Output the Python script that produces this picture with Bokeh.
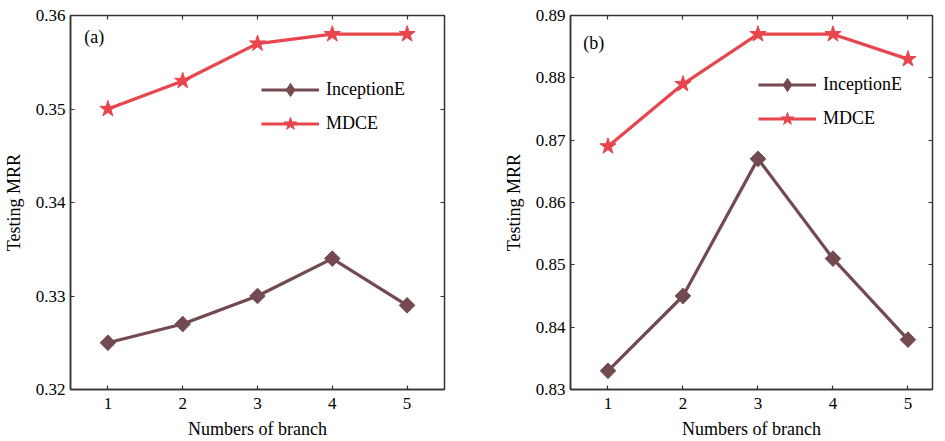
import math
from bokeh.plotting import figure
from bokeh.layouts import row
from bokeh.models import (LinearAxis, Legend, LegendItem, Label, FixedTicker,
                          CustomJSTickFormatter, Range1d)
from bokeh.embed import file_html
from bokeh.resources import INLINE

branches = [1, 2, 3, 4, 5]

# Panel (a)
a_inception = [0.325, 0.327, 0.330, 0.334, 0.329]
a_mdce = [0.350, 0.353, 0.357, 0.358, 0.358]
a_ticks = [0.32, 0.33, 0.34, 0.35, 0.36]

# Panel (b)
b_inception = [0.833, 0.845, 0.867, 0.851, 0.838]
b_mdce = [0.869, 0.879, 0.887, 0.887, 0.883]
b_ticks = [0.83, 0.84, 0.85, 0.86, 0.87, 0.88, 0.89]

series_names = ["InceptionE", "MDCE"]
x_label = "Numbers of branch"
y_label = "Testing MRR"

FONT = "Liberation Serif"
C_INC = "#724a50"
C_MDCE = "#e8454c"
AXC = "#333333"

TOP = 15
FRAME_H = 374
BOTTOM = 52


def make_panel(inc, mdce, yticks, tag, width, x_end, bl, br, leg_xy, tag_xy):
    y0, y1 = yticks[0], yticks[-1]
    p = figure(width=width, height=TOP + FRAME_H + BOTTOM, output_backend="svg",
               toolbar_location=None,
               x_range=Range1d(0.5, x_end), y_range=Range1d(y0, y1),
               min_border_left=bl, min_border_right=br, min_border_top=TOP,
               min_border_bottom=BOTTOM)
    p.grid.visible = False
    p.outline_line_color = AXC
    p.outline_line_width = 1.5
    p.background_fill_color = "white"
    p.border_fill_color = "white"

    for ax in (p.xaxis[0], p.yaxis[0]):
        ax.major_tick_in = 4
        ax.major_tick_out = 0
        ax.minor_tick_line_color = None
        ax.axis_line_color = AXC
        ax.axis_line_width = 1.5
        ax.major_tick_line_color = AXC
        ax.major_tick_line_width = 1.2
        ax.major_label_text_font = FONT
        ax.major_label_text_font_size = "17px"
        ax.major_label_text_color = "black"
        ax.axis_label_text_font = FONT
        ax.axis_label_text_font_size = "18px"
        ax.axis_label_text_font_style = "normal"
        ax.axis_label_text_color = "black"

    p.xaxis[0].ticker = FixedTicker(ticks=branches)
    p.xaxis[0].axis_label = x_label
    p.xaxis[0].major_label_standoff = 8
    p.xaxis[0].axis_label_standoff = 7
    p.yaxis[0].ticker = FixedTicker(ticks=yticks)
    p.yaxis[0].formatter = CustomJSTickFormatter(code="return tick.toFixed(2);")
    p.yaxis[0].axis_label = y_label
    p.yaxis[0].major_label_standoff = 5
    p.yaxis[0].axis_label_standoff = 9

    # mirror ticks (no labels)
    for loc, tk in (("right", yticks), ("above", branches)):
        ax = LinearAxis(ticker=FixedTicker(ticks=tk),
                        formatter=CustomJSTickFormatter(code="return '';"))
        ax.major_tick_in = 4
        ax.major_tick_out = 0
        ax.minor_tick_line_color = None
        ax.axis_line_color = None
        ax.major_tick_line_color = AXC
        ax.major_tick_line_width = 1.2
        ax.major_label_standoff = 0
        p.add_layout(ax, loc)

    # diamonds hidden under the rotated squares, used for the legend symbol
    d1 = p.scatter(branches, inc, marker="diamond", size=15,
                   fill_color=C_INC, line_color=C_INC)
    l1 = p.line(branches, inc, line_color=C_INC, line_width=3.2)
    p.scatter(branches, inc, marker="square", size=11, angle=math.pi / 4,
              fill_color=C_INC, line_color=C_INC)
    l2 = p.line(branches, mdce, line_color=C_MDCE, line_width=3.2)
    s2 = p.scatter(branches, mdce, marker="star", size=17,
                   fill_color=C_MDCE, line_color=C_MDCE)

    leg = Legend(items=[LegendItem(label=series_names[0], renderers=[l1, d1]),
                        LegendItem(label=series_names[1], renderers=[l2, s2])],
                 location=leg_xy)
    leg.border_line_color = None
    leg.background_fill_alpha = 0
    leg.padding = 0
    leg.margin = 0
    leg.spacing = 1
    leg.glyph_width = 58
    leg.glyph_height = 33
    leg.label_height = 20
    leg.label_standoff = 7
    leg.label_text_font = FONT
    leg.label_text_font_size = "18px"
    leg.label_text_color = "black"
    p.add_layout(leg, "center")

    p.add_layout(Label(x=tag_xy[0], y=tag_xy[1], text=tag, text_font=FONT,
                       text_font_size="18px", text_baseline="middle",
                       text_align="left", text_color="black"))
    return p


p1 = make_panel(a_inception, a_mdce, a_ticks, "(a)", 500, 5.5, 69, 56,
                (191, 249.5), (0.685, 0.35775))
p2 = make_panel(b_inception, b_mdce, b_ticks, "(b)", 435, 5.327, 70, 3,
                (188, 254.5), (0.67, 0.88556))

layout = row(p1, p2)
open("out.html", "w").write(file_html(layout, INLINE))
